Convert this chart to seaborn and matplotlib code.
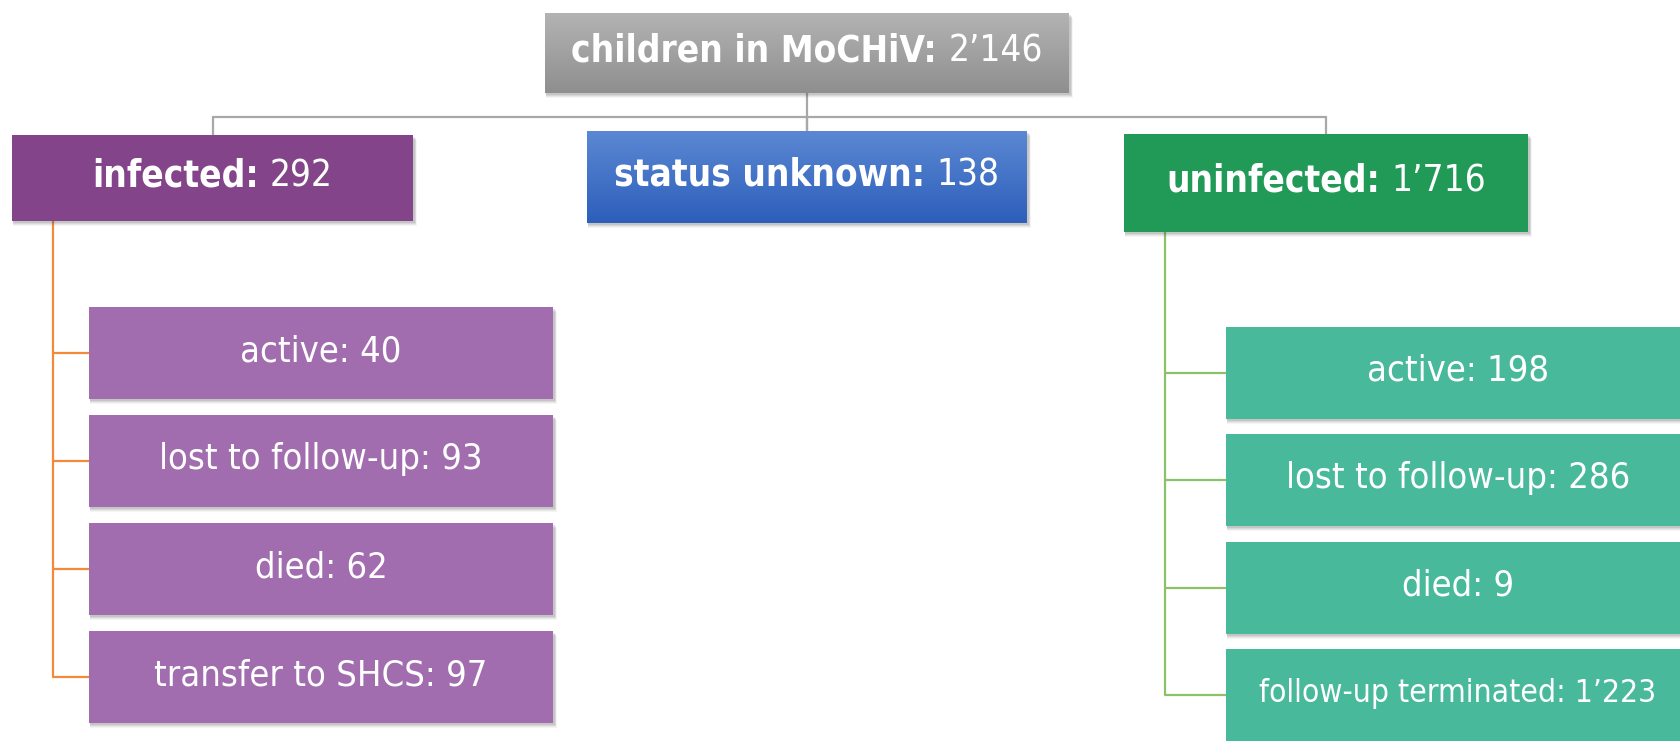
import numpy as np
import matplotlib
matplotlib.use("Agg")
import matplotlib.pyplot as plt
from matplotlib.patches import Rectangle
from matplotlib.colors import LinearSegmentedColormap
from matplotlib.offsetbox import TextArea, HPacker, AnnotationBbox
from matplotlib import font_manager
import seaborn as sns

# data
root_label = "children in MoCHiV"
root_count = 2146
group_labels = ["infected", "status unknown", "uninfected"]
group_counts = [292, 138, 1716]
infected_labels = ["active", "lost to follow-up", "died", "transfer to SHCS"]
infected_counts = [40, 93, 62, 97]
uninfected_labels = ["active", "lost to follow-up", "died", "follow-up terminated"]
uninfected_counts = [198, 286, 9, 1223]


def fmt(n):
    return f"{n:,}".replace(",", "\u2019")


sns.set_theme(style="white")
plt.rcParams['font.family'] = ['DejaVu Sans']

# condensed face if we have it
condensed = any(f.name == 'DejaVu Sans' and str(f.stretch) in ('condensed', 'semi-condensed')
                for f in font_manager.fontManager.ttflist)
stretch = 'condensed' if condensed else 'normal'
fs_child = 26 if condensed else 23.5
fs_head = 26.5 if condensed else 24

fig = plt.figure(figsize=(16.8, 7.41), dpi=100)
ax = fig.add_axes([0, 0, 1, 1])
ax.set_axis_off()
renderer = fig.canvas.get_renderer()


def shadow(x0, y0, x1, y1):
    for k, a in [(5, 0.05), (4, 0.07), (3, 0.09), (2, 0.12)]:
        ax.add_patch(Rectangle((x0 + 1, y0 + k), x1 - x0 + k * 0.5, y1 - y0,
                               color='#404040', alpha=a, lw=0, zorder=2))


def box(x0, y0, x1, y1, color, top=None):
    shadow(x0, y0, x1, y1)
    if top is None:
        ax.add_patch(Rectangle((x0, y0), x1 - x0, y1 - y0, color=color, lw=0, zorder=3))
    else:
        cmap = LinearSegmentedColormap.from_list('g', [top, color])
        grad = np.linspace(0, 1, 64).reshape(-1, 1)
        ax.imshow(grad, extent=(x0, x1, y1, y0), origin='upper', cmap=cmap,
                  aspect='auto', zorder=3, interpolation='bicubic')


def fit_size(text, size, max_w):
    t = fig.text(0, 0, text, fontsize=size, fontstretch=stretch)
    w = t.get_window_extent(renderer).width
    t.remove()
    return size if w <= max_w else size * max_w / w


def label(cx, cy, name, count, bold_name, size, max_w=None):
    if bold_name:
        t1 = TextArea(name + ":", textprops=dict(color='white', fontsize=size,
                                                   fontweight='bold', fontstretch=stretch))
        t2 = TextArea(fmt(count), textprops=dict(color='white', fontsize=size,
                                                  fontstretch=stretch))
        pack = HPacker(children=[t1, t2], align='baseline', pad=0, sep=size * 0.3)
    else:
        s = f"{name}: {fmt(count)}"
        if max_w is not None:
            size = fit_size(s, size, max_w)
        pack = TextArea(s, textprops=dict(color='white', fontsize=size, fontstretch=stretch))
    ab = AnnotationBbox(pack, (cx, cy), xycoords='data', frameon=False,
                        box_alignment=(0.5, 0.45), pad=0, zorder=5)
    ax.add_artist(ab)


# connectors top level
line_gray = '#a8a8a8'
root_box = (545, 13, 1069, 93)
group_boxes = [(12, 135, 413, 221), (587, 131, 1027, 223), (1124, 134, 1528, 232)]
group_colors = ['#834489', '#2d5fbb', '#219a57']
group_tops = [None, '#5b88d3', None]
bar_y = 117
root_cx = (root_box[0] + root_box[2]) / 2
centers = [(b[0] + b[2]) / 2 for b in group_boxes]
ax.plot([centers[0], centers[-1]], [bar_y, bar_y], color=line_gray, lw=1.6, zorder=1)
ax.plot([root_cx, root_cx], [root_box[3], group_boxes[1][1]], color=line_gray, lw=1.6, zorder=1)
for b, c in zip(group_boxes, centers):
    ax.plot([c, c], [bar_y, b[1]], color=line_gray, lw=1.6, zorder=1)

box(*root_box, '#8f8f8f', top='#b3b3b3')
label(root_cx, (root_box[1] + root_box[3]) / 2, root_label, root_count, True, fs_head)

for b, col, tp, name, cnt in zip(group_boxes, group_colors, group_tops, group_labels, group_counts):
    box(*b, col, top=tp)
    label((b[0] + b[2]) / 2, (b[1] + b[3]) / 2, name, cnt, True, fs_head)

# child lists
branches = [
    dict(labels=infected_labels, counts=infected_counts, parent=group_boxes[0], line_x=53,
         x0=89, x1=553, top=307, pitch=108, h=92, color='#a16daf', line='#f28a3a'),
    dict(labels=uninfected_labels, counts=uninfected_counts, parent=group_boxes[2], line_x=1165,
         x0=1226, x1=1690, top=326.5, pitch=107.5, h=92, color='#48b99b', line='#8cc267'),
]
for br in branches:
    ys = [br['top'] + i * br['pitch'] for i in range(len(br['labels']))]
    mids = [y + br['h'] / 2 for y in ys]
    ax.plot([br['line_x'], br['line_x']], [br['parent'][3], mids[-1]], color=br['line'],
            lw=1.6, zorder=1, solid_capstyle='butt')
    for y, m, name, cnt in zip(ys, mids, br['labels'], br['counts']):
        ax.plot([br['line_x'], br['x0']], [m, m], color=br['line'], lw=1.6, zorder=1)
        box(br['x0'], y, br['x1'], y + br['h'], br['color'])
        label((br['x0'] + br['x1']) / 2, m, name, cnt, False, fs_child,
              max_w=br['x1'] - br['x0'] - 66)

ax.set_xlim(0, 1680)
ax.set_ylim(741, 0)
fig.savefig("out.png", dpi=100, facecolor='white')
